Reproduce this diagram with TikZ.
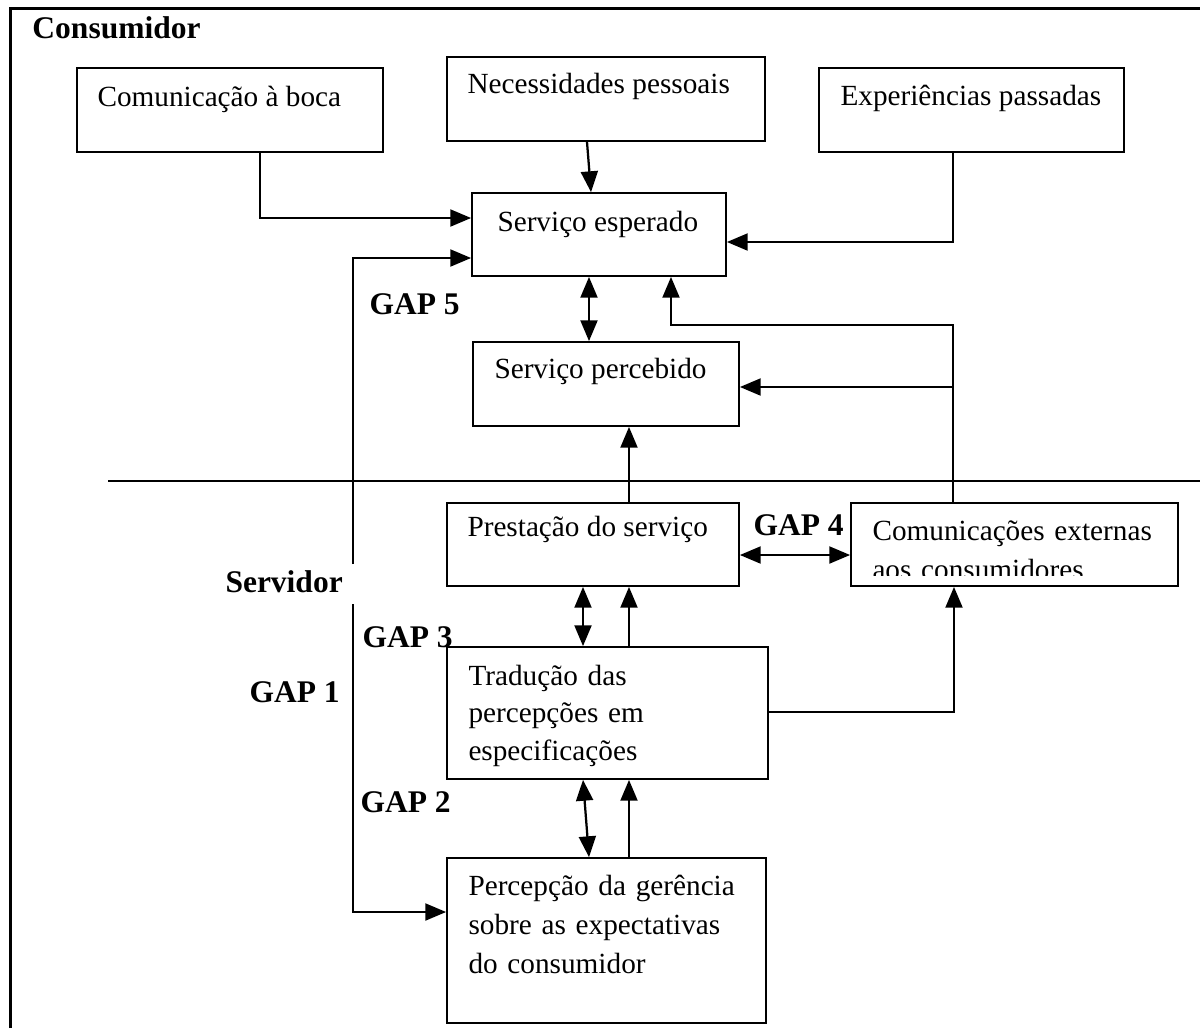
\documentclass[tikz,border=0pt]{standalone}
\usepackage{fontspec}
\setmainfont{Liberation Serif}
\usetikzlibrary{arrows}
\usetikzlibrary{fit}

\tikzset{
 caixa/.style={draw, line width=0.8pt, inner sep=0pt},
 rotulo/.style={anchor=base west, inner sep=0pt, font=\fontsize{11.7}{15}\selectfont},
 gap/.style={anchor=base west, inner sep=0pt, font=\fontsize{12.6}{15}\selectfont\bfseries},
 seta/.style={line width=0.9pt, ->, >=triangle 45},
 dupla/.style={line width=0.9pt, <->, >=triangle 45},
}

\begin{document}
\begin{tikzpicture}[x=0.4pt,y=-0.4pt]
\useasboundingbox (0,0) rectangle (1200,1028);
% moldura e divisoria
\draw[line width=1.2pt] (10,1028) -- (10,8) -- (1200,8);
\draw[line width=0.6pt] (108,481) -- (1200,481);
\node[gap] (consum) at (32,38) {Consumidor};
\node[gap] (servid) at (225,592) {Servidor};

% caixas
\node[caixa, fit={(77,68) (383,152)}] (boca) {};
\node[caixa, fit={(447,57) (765,141)}] (necess) {};
\node[caixa, fit={(819,68) (1124,152)}] (exper) {};
\node[caixa, fit={(472,193) (726,276)}] (esper) {};
\node[caixa, fit={(473,342) (739,426)}] (perceb) {};
\node[caixa, fit={(447,503) (739,586)}] (prest) {};
\node[caixa, fit={(851,503) (1178,586)}] (comext) {};
\node[caixa, fit={(447,647) (768,779)}] (trad) {};
\node[caixa, fit={(447,858) (766,1023)}] (pger) {};

% textos
\node[rotulo] (tboca) at (97,106) {Comunicação à boca};
\node[rotulo] (tnecess) at (467,93) {Necessidades pessoais};
\node[rotulo] (texper) at (840,105) {Experiências passadas};
\node[rotulo] (tesper) at (497,231) {Serviço esperado};
\node[rotulo] (tperceb) at (494,378) {Serviço percebido};
\node[rotulo] (tprest) at (467,536) {Prestação do serviço};
\begin{scope}
 \clip (851,503) rectangle (1178,575);
 \node[rotulo, text width=300, align=left, font=\fontsize{11.7}{15.6}\selectfont] (tcomext) at (872,540) {Comunicações externas\\aos consumidores};
\end{scope}
\node[rotulo, text width=300, align=left] (ttrad) at (468,685) {Tradução das\\percepções em\\especificações};
\node[rotulo, text width=300, align=left, font=\fontsize{11.7}{15.6}\selectfont] (tpger) at (468,895) {Percepção da gerência\\sobre as expectativas\\do consumidor};

\node[gap] (gap5) at (369,314) {GAP 5};
\node[gap] (gap4) at (753,535) {GAP 4};
\node[gap] (gap3) at (362,647) {GAP 3};
\node[gap] (gap1) at (249,702) {GAP 1};
\node[gap] (gap2) at (360,812) {GAP 2};

% setas
\coordinate (gtopo) at (353,564);
\coordinate (gbase) at (353,604);
\draw[seta] (260,0 |- boca.south) |- (esper.west |- 0,218);
\draw[seta] (587,0 |- necess.south) -- (591,0 |- esper.north);
\draw[seta] (953,0 |- exper.south) |- (esper.east |- 0,242);
\draw[seta] (gtopo) |- (esper.west |- 0,258);
\draw[seta] (gbase) |- (pger.west |- 0,912);
\draw[dupla] (589,0 |- esper.south) -- (589,0 |- perceb.north);
\draw[seta] (953,0 |- comext.north) |- (671,325) -- (671,0 |- esper.south);
\draw[seta] (953,387) -- (perceb.east |- 0,387);
\draw[seta] (629,0 |- prest.north) -- (629,0 |- perceb.south);
\draw[dupla] (prest.east |- 0,555) -- (comext.west |- 0,555);
\draw[dupla] (583,0 |- prest.south) -- (583,0 |- trad.north);
\draw[seta] (629,0 |- trad.north) -- (629,0 |- prest.south);
\draw[dupla] (583,0 |- trad.south) -- (589,0 |- pger.north);
\draw[seta] (629,0 |- pger.north) -- (629,0 |- trad.south);
\draw[seta] (trad.east |- 0,712) -| (954,0 |- comext.south);
\end{tikzpicture}
\end{document}
